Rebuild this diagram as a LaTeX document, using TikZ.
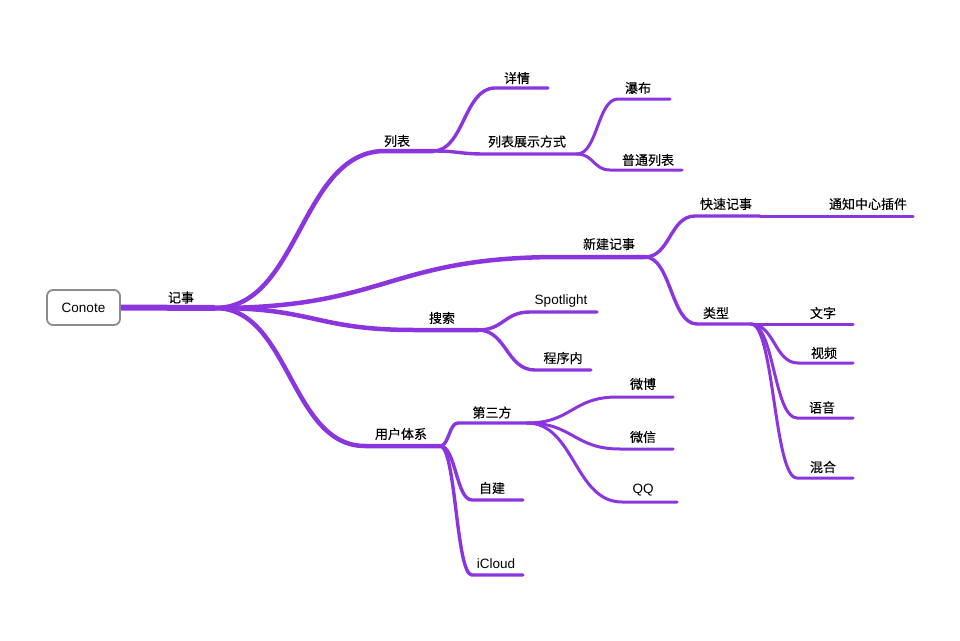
\documentclass[tikz,border=0pt]{standalone}
\usepackage{fontspec}
\setmainfont{Liberation Sans}
\newfontfamily\cjk[FakeBold=0.3]{Noto Sans CJK SC}
\usetikzlibrary{calc}
\definecolor{mmpurple}{RGB}{138,53,222}
\definecolor{boxgray}{RGB}{140,140,140}
\tikzset{
  mmcurve/.style={to path={let \p1=(\tikztostart), \p2=(\tikztotarget) in
      .. controls ({0.5*\x1+0.5*\x2},\y1) and ({0.5*\x1+0.5*\x2},\y2) .. (\tikztotarget)}},
  bzero/.style={draw=mmpurple, line width=6pt, line cap=butt},
  bone/.style={draw=mmpurple, line width=4.5pt, line cap=round},
  btwo/.style={draw=mmpurple, line width=3.4pt, line cap=round},
  bthree/.style={draw=mmpurple, line width=3pt, line cap=round},
  cj/.style={font=\cjk\fontsize{13}{15}\selectfont, inner sep=0pt},
  la/.style={font=\fontsize{13.5}{16}\selectfont, inner sep=0pt},
  rootbox/.style={draw=boxgray, line width=1.8pt, rounded corners=6pt, fill=white,
      minimum width=73pt, minimum height=35pt, font=\fontsize{13.5}{16}\selectfont}
}
\begin{document}
\begin{tikzpicture}[x=1pt,y=-1pt]
\useasboundingbox (0,0) rectangle (960,640);
% coordinates
\coordinate (jishi-e) at (215,308);
\coordinate (liebiao-s) at (385,151);  \coordinate (liebiao-e) at (433,151);
\coordinate (xinjian-s) at (560,257);  \coordinate (xinjian-e) at (645,257);
\coordinate (sousuo-s) at (415,330);   \coordinate (sousuo-e) at (478,330);
\coordinate (yonghu-s) at (365,446);   \coordinate (yonghu-e) at (440,446);
\coordinate (xiangqing-s) at (495,88); \coordinate (xiangqing-e) at (548,88);
\coordinate (zhanshi-s) at (485,154);  \coordinate (zhanshi-e) at (577,154);
\coordinate (kuaisu-s) at (695,216);   \coordinate (kuaisu-e) at (760,216);
\coordinate (leixing-s) at (697,324);  \coordinate (leixing-e) at (751,324);
\coordinate (spot-s) at (530,312);     \coordinate (spot-e) at (597,312);
\coordinate (chengxu-s) at (535,370);  \coordinate (chengxu-e) at (591,370);
\coordinate (disan-s) at (458,423);    \coordinate (disan-e) at (527,423);
\coordinate (zijian-s) at (472,500);   \coordinate (zijian-e) at (523,500);
\coordinate (icloud-s) at (472,575);   \coordinate (icloud-e) at (523,575);
\coordinate (pubu-s) at (618,99);      \coordinate (pubu-e) at (670,99);
\coordinate (putong-s) at (610,170);   \coordinate (putong-e) at (682,170);
\coordinate (tongzhi-e) at (913,216);
\coordinate (wenzi-e) at (853,324);
\coordinate (shipin-s) at (798,363);   \coordinate (shipin-e) at (853,363);
\coordinate (yuyin-s) at (797,418);    \coordinate (yuyin-e) at (853,418);
\coordinate (hunhe-s) at (797,478);    \coordinate (hunhe-e) at (853,478);
\coordinate (weibo-s) at (617,397);    \coordinate (weibo-e) at (673,397);
\coordinate (weixin-s) at (620,449);   \coordinate (weixin-e) at (673,449);
\coordinate (qq-s) at (622,502);       \coordinate (qq-e) at (677,502);
% root
\node[rootbox] (root) at (83.5,307.5) {Conote};
% connectors
\draw[bzero] (root.east) -- (jishi-e);
\draw[bone] (jishi-e) to[mmcurve] (liebiao-s) -- (liebiao-e);
\draw[bone] (jishi-e) to[mmcurve] (xinjian-s) -- (xinjian-e);
\draw[bone] (jishi-e) to[mmcurve] (sousuo-s) -- (sousuo-e);
\draw[bone] (jishi-e) to[mmcurve] (yonghu-s) -- (yonghu-e);
\draw[btwo] (liebiao-e) to[mmcurve] (xiangqing-s) -- (xiangqing-e);
\draw[btwo] (liebiao-e) to[mmcurve] (zhanshi-s) -- (zhanshi-e);
\draw[btwo] (xinjian-e) to[mmcurve] (kuaisu-s) -- (kuaisu-e);
\draw[btwo] (xinjian-e) to[mmcurve] (leixing-s) -- (leixing-e);
\draw[btwo] (sousuo-e) to[mmcurve] (spot-s) -- (spot-e);
\draw[btwo] (sousuo-e) to[mmcurve] (chengxu-s) -- (chengxu-e);
\draw[btwo] (yonghu-e) to[mmcurve] (disan-s) -- (disan-e);
\draw[btwo] (yonghu-e) to[mmcurve] (zijian-s) -- (zijian-e);
\draw[btwo] (yonghu-e) to[mmcurve] (icloud-s) -- (icloud-e);
\draw[bthree] (zhanshi-e) to[mmcurve] (pubu-s) -- (pubu-e);
\draw[bthree] (zhanshi-e) to[mmcurve] (putong-s) -- (putong-e);
\draw[bthree] (kuaisu-e) -- (tongzhi-e);
\draw[bthree] (leixing-e) -- (wenzi-e);
\draw[bthree] (leixing-e) to[mmcurve] (shipin-s) -- (shipin-e);
\draw[bthree] (leixing-e) to[mmcurve] (yuyin-s) -- (yuyin-e);
\draw[bthree] (leixing-e) to[mmcurve] (hunhe-s) -- (hunhe-e);
\draw[bthree] (disan-e) to[mmcurve] (weibo-s) -- (weibo-e);
\draw[bthree] (disan-e) to[mmcurve] (weixin-s) -- (weixin-e);
\draw[bthree] (disan-e) to[mmcurve] (qq-s) -- (qq-e);
% labels
\node[cj] (jishi) at (181,297.5) {记事};
\node[cj] (liebiao) at (397,141) {列表};
\node[cj] (xinjian) at (609,244) {新建记事};
\node[cj] (sousuo) at (442,318) {搜索};
\node[cj] (yonghu) at (401,434) {用户体系};
\node[cj] (xiangqing) at (517,78) {详情};
\node[cj] (zhanshi) at (527,141.5) {列表展示方式};
\node[cj] (kuaisu) at (726,204) {快速记事};
\node[cj] (leixing) at (716,313) {类型};
\node[la] (spot) at (561,301) {Spotlight};
\node[cj] (chengxu) at (563,358) {程序内};
\node[cj] (disan) at (492,412.5) {第三方};
\node[cj] (zijian) at (492,488) {自建};
\node[la] (icloud) at (496,564) {iCloud};
\node[cj] (pubu) at (638,88) {瀑布};
\node[cj] (putong) at (648,160) {普通列表};
\node[cj] (tongzhi) at (868,204) {通知中心插件};
\node[cj] (wenzi) at (823,313) {文字};
\node[cj] (shipin) at (824,353) {视频};
\node[cj] (yuyin) at (822,407.5) {语音};
\node[cj] (hunhe) at (823,467) {混合};
\node[cj] (weibo) at (643,384) {微博};
\node[cj] (weixin) at (643,437) {微信};
\node[la] (qq) at (643,490) {QQ};
\end{tikzpicture}
\end{document}
